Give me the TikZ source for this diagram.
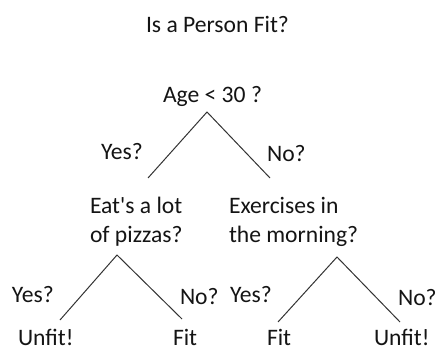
\documentclass[tikz,border=0pt]{standalone}
\usepackage{fontspec}
\setmainfont{Carlito}[Ligatures=TeXOff]
\begin{document}
\begin{tikzpicture}[x=1pt,y=-1pt,
  txt/.style={anchor=base west,inner sep=0pt,outer sep=0pt,text=black!92,
    font=\fontsize{23.6}{29}\selectfont},
  two/.style={txt,align=left},
  leaf/.style={txt,text depth=0pt},
  branch/.style={draw=black!80,line width=1pt}]
\useasboundingbox (0,0) rectangle (438,347);
% title and questions
\node[txt] (title) at (146,33) {Is a Person Fit?};
\node[txt] (root) at (163,103) {Age < 30 ?};
\node[two] (pizza) at (90,242) {Eat's a lot\\of pizzas?};
\node[two] (exer) at (229,242) {Exercises in\\the morning?};
% branch labels
\node[txt] (y1) at (101,160) {Yes?};
\node[txt] (n1) at (267,162) {No?};
\node[txt] (y2) at (12,302) {Yes?};
\node[txt] (n2) at (180,304) {No?};
\node[txt] (y3) at (230,302) {Yes?};
\node[txt] (n3) at (398,305) {No?};
% leaves
\node[leaf] (l1) at (18,345) {Unfit!};
\node[leaf] (l2) at (173,345) {Fit};
\node[leaf] (l3) at (267,345) {Fit};
\node[leaf] (l4) at (374,345) {Unfit!};
% branch points
\coordinate (a0) at (207,112);
\coordinate (a1) at (148,178);
\coordinate (a2) at (270,178);
\coordinate (b0) at (117,255);
\coordinate (b1) at (60,320);
\coordinate (b2) at (182,319);
\coordinate (c0) at (337,257);
\coordinate (c1) at (278,322);
\coordinate (c2) at (400,322);
\draw[branch] (a1) -- (a0) -- (a2);
\draw[branch] (b1) -- (b0) -- (b2);
\draw[branch] (c1) -- (c0) -- (c2);
\end{tikzpicture}
\end{document}
